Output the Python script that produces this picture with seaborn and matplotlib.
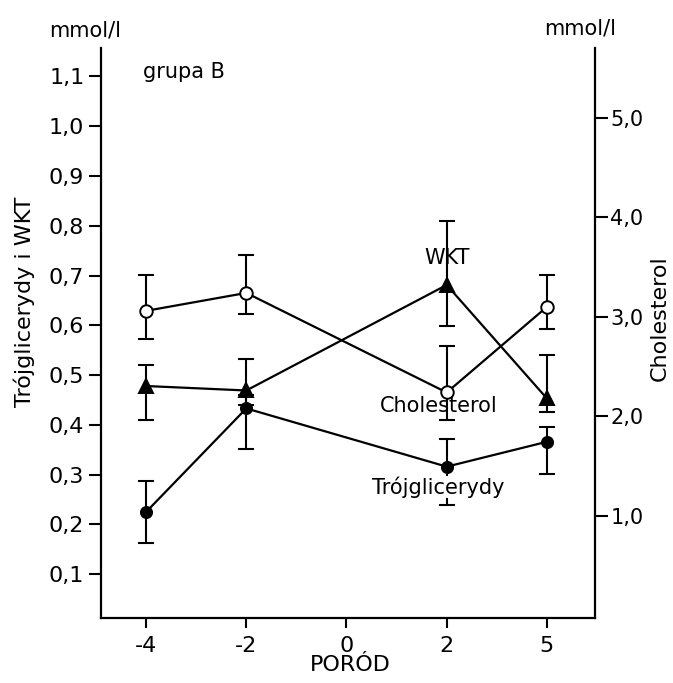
import matplotlib
matplotlib.use("Agg")
import matplotlib.pyplot as plt
import numpy as np
import pandas as pd
import seaborn as sns

# time points relative to delivery (categorical, equally spaced on the axis)
tick_labels = ["-4", "-2", "0", "2", "5"]
timepoints = ["-4", "-2", "2", "5"]

# WKT (left axis, mmol/l)
wkt = [0.478, 0.469, 0.681, 0.453]
wkt_low = [0.410, 0.440, 0.598, 0.426]
wkt_high = [0.521, 0.533, 0.810, 0.540]

# Trojglicerydy (left axis, mmol/l)
tg = [0.225, 0.433, 0.316, 0.366]
tg_low = [0.162, 0.352, 0.239, 0.301]
tg_high = [0.288, 0.460, 0.371, 0.396]

# Cholesterol (right axis, mmol/l)
chol = [3.06, 3.24, 2.24, 3.10]
chol_low = [2.78, 3.03, 1.96, 2.88]
chol_high = [3.42, 3.62, 2.71, 3.42]

left_ticks = [0.1, 0.2, 0.3, 0.4, 0.5, 0.6, 0.7, 0.8, 0.9, 1.0, 1.1]
right_ticks = [1.0, 2.0, 3.0, 4.0, 5.0]

sns.set_style("ticks")
plt.rcParams["font.family"] = ["DejaVu Sans"]
plt.rcParams.update({"text.color": "black", "axes.edgecolor": "black",
                     "xtick.color": "black", "ytick.color": "black",
                     "axes.labelcolor": "black"})

pos = [tick_labels.index(t) for t in timepoints]
df = pd.DataFrame({"pos": pos, "wkt": wkt, "tg": tg, "chol": chol})

fig = plt.figure(figsize=(6.73, 6.83), dpi=100)
ax = fig.add_axes([101 / 673, 65 / 683, 494 / 673, 570 / 683])
ax2 = ax.twinx()

line_kw = dict(color="black", linewidth=1.6, markeredgecolor="black",
               markeredgewidth=1.4)
err_kw = dict(fmt="none", ecolor="black", elinewidth=1.5, capsize=6,
              capthick=1.5, zorder=1)


def yerr(mid, low, high):
    return [np.subtract(mid, low), np.subtract(high, mid)]


ax.errorbar(df["pos"], df["wkt"], yerr=yerr(wkt, wkt_low, wkt_high), **err_kw)
ax.errorbar(df["pos"], df["tg"], yerr=yerr(tg, tg_low, tg_high), **err_kw)
sns.lineplot(data=df, x="pos", y="wkt", ax=ax, marker="^", markersize=10,
             markerfacecolor="black", **line_kw)
sns.lineplot(data=df, x="pos", y="tg", ax=ax, marker="o", markersize=8,
             markerfacecolor="black", **line_kw)

ax2.errorbar(df["pos"], df["chol"], yerr=yerr(chol, chol_low, chol_high), **err_kw)
sns.lineplot(data=df, x="pos", y="chol", ax=ax2, marker="o", markersize=9,
             markerfacecolor="white", **line_kw)

ax.set_xlim(-0.45, 4.48)
ax.set_ylim(0.012, 1.157)
ax2.set_ylim(-0.025, 5.70)

fs = 16
ax.set_xticks(range(len(tick_labels)))
ax.set_xticklabels(tick_labels, fontsize=fs)
ax.set_yticks(left_ticks)
ax.set_yticklabels([f"{v:.1f}".replace(".", ",") for v in left_ticks], fontsize=fs)
ax2.set_yticks(right_ticks)
ax2.set_yticklabels([f"{v:.1f}".replace(".", ",") for v in right_ticks], fontsize=15)
ax.set_xlabel("")
ax.set_ylabel("")
ax2.set_ylabel("")

ax.tick_params(axis="y", direction="out", length=9, width=1.5, pad=3)
ax.tick_params(axis="x", direction="out", length=7, width=1.5, pad=6)
ax2.tick_params(axis="y", direction="out", length=9, width=1.5, pad=2)

for a in (ax, ax2):
    a.spines["top"].set_visible(False)
    for s in ("left", "right", "bottom"):
        a.spines[s].set_linewidth(1.6)
ax.spines["right"].set_visible(False)
ax2.spines["left"].set_visible(False)
ax2.spines["bottom"].set_visible(False)

box = dict(facecolor="white", edgecolor="none", pad=0.5)
ax.text(3, 0.735, "WKT", ha="center", va="center", fontsize=15, zorder=5)
ax.text(2.92, 0.438, "Cholesterol", ha="center", va="center", fontsize=15,
        bbox=box, zorder=5)
ax.text(2.92, 0.275, "Trójglicerydy", ha="center", va="center", fontsize=15,
        bbox=box, zorder=5)
ax.text(-0.03, 1.108, "grupa B", ha="left", va="center", fontsize=15)

fig.text(85 / 673, 1 - 30 / 683, "mmol/l", ha="center", va="center", fontsize=15)
fig.text(580 / 673, 1 - 28 / 683, "mmol/l", ha="center", va="center", fontsize=15)
fig.text(24 / 673, 1 - 302 / 683, "Trójglicerydy i WKT", rotation=90,
         ha="center", va="center", fontsize=16)
fig.text(660 / 673, 1 - 318 / 683, "Cholesterol", rotation=90,
         ha="center", va="center", fontsize=16)
fig.text(350 / 673, 1 - 665 / 683, "PORÓD", ha="center", va="center", fontsize=16)

fig.savefig("out.png", dpi=100)
